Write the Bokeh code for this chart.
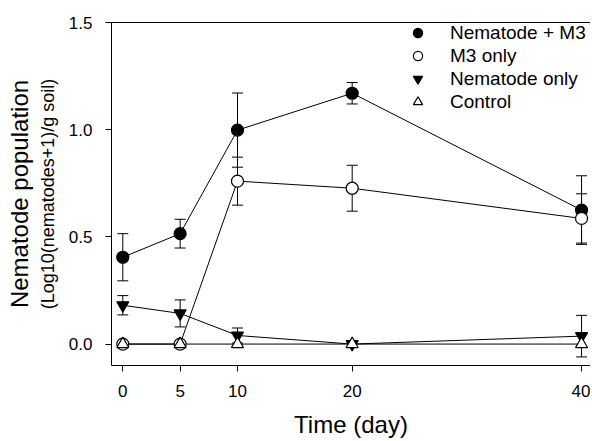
from bokeh.plotting import figure
from bokeh.models import (ColumnDataSource, Whisker, TeeHead, Legend, LegendItem,
                          FixedTicker, LinearAxis, Title, Range1d, NumeralTickFormatter)
from bokeh.embed import file_html
from bokeh.resources import INLINE

# ---- data ----
days = [0, 5, 10, 20, 40]
nem_m3 = [0.405, 0.515, 0.998, 1.170, 0.625]
nem_m3_err = [0.110, 0.067, 0.173, 0.050, 0.160]
m3_only = [0.0, 0.0, 0.760, 0.727, 0.586]
m3_only_err = [0.0, 0.0, 0.112, 0.107, 0.115]
nem_only = [0.181, 0.143, 0.040, 0.0, 0.037]
nem_only_err = [0.045, 0.063, 0.035, 0.0, 0.097]
control = [0.0, 0.0, 0.0, 0.0, 0.0]
control_err = [0.0, 0.0, 0.0, 0.0, 0.0]
x_ticks = [0, 5, 10, 20, 40]
y_ticks = [0.0, 0.5, 1.0, 1.5]
series_names = ["Nematode + M3", "M3 only", "Nematode only", "Control"]

FONT = "Liberation Sans"

p = figure(width=590, height=440, output_backend="svg", toolbar_location=None,
           x_range=Range1d(-0.985, 40.78), y_range=Range1d(-0.1, 1.5),
           min_border_left=111, min_border_right=0, min_border_top=22,
           min_border_bottom=71)
p.grid.visible = False
p.outline_line_color = None
p.background_fill_color = "white"
p.border_fill_color = "white"

# axes
for ax in (p.xaxis[0], p.yaxis[0]):
    ax.axis_line_color = "black"
    ax.axis_line_width = 1
    ax.major_tick_line_color = "black"
    ax.major_tick_out = 6
    ax.major_tick_in = 0
    ax.minor_tick_line_color = None
    ax.major_label_text_font = FONT
    ax.major_label_text_font_size = "17px"
    ax.major_label_text_color = "black"

p.xaxis[0].ticker = FixedTicker(ticks=x_ticks)
p.xaxis[0].major_label_standoff = 13
p.xaxis[0].axis_label = "Time (day)"
p.xaxis[0].axis_label_text_font = FONT
p.xaxis[0].axis_label_text_font_size = "24px"
p.xaxis[0].axis_label_text_font_style = "normal"
p.xaxis[0].axis_label_text_color = "black"
p.xaxis[0].axis_label_standoff = 11

p.yaxis[0].ticker = FixedTicker(ticks=y_ticks)
p.yaxis[0].formatter = NumeralTickFormatter(format="0.0")
p.yaxis[0].major_label_standoff = 13
p.yaxis[0].axis_label = "(Log10(nematodes+1)/g soil)"
p.yaxis[0].axis_label_text_font = FONT
p.yaxis[0].axis_label_text_font_size = "18px"
p.yaxis[0].axis_label_text_font_style = "normal"
p.yaxis[0].axis_label_text_color = "black"
p.yaxis[0].axis_label_standoff = 8

p.add_layout(Title(text="Nematode population", text_font=FONT, text_font_size="24px",
                   text_font_style="normal", text_color="black", align="center",
                   standoff=4), "left")

top_axis = LinearAxis(ticker=FixedTicker(ticks=[]), major_tick_line_color=None,
                      minor_tick_line_color=None, major_label_text_font_size="0px",
                      axis_line_color="black")
p.add_layout(top_axis, "above")

series = [
    (nem_m3, nem_m3_err, "circle", "black"),
    (m3_only, m3_only_err, "circle", "white"),
    (nem_only, nem_only_err, "inverted_triangle", "black"),
    (control, control_err, "triangle", "white"),
]

# lines
for vals, errs, marker, fill in series:
    p.line(days, vals, line_color="black", line_width=1)

# error bars
for vals, errs, marker, fill in series:
    xs = [d for d, e in zip(days, errs) if e > 0]
    up = [v + e for v, e in zip(vals, errs) if e > 0]
    lo = [v - e for v, e in zip(vals, errs) if e > 0]
    if xs:
        src = ColumnDataSource(dict(x=xs, upper=up, lower=lo))
        w = Whisker(source=src, base="x", upper="upper", lower="lower",
                    line_color="black", line_width=1,
                    upper_head=TeeHead(size=11, line_color="black", line_width=1),
                    lower_head=TeeHead(size=11, line_color="black", line_width=1))
        p.add_layout(w)

# markers
items = []
for (vals, errs, marker, fill), name in zip(series, series_names):
    r = p.scatter(days, vals, marker=marker, size=12, fill_color=fill,
                  line_color="black", line_width=1.2)
    items.append(LegendItem(label=name, renderers=[r]))

legend = Legend(items=items, location=(295, 252), border_line_color=None,
                background_fill_alpha=0, label_text_font=FONT,
                label_text_font_size="19px", label_text_color="black",
                label_height=23, glyph_height=23, glyph_width=23, spacing=0,
                padding=0, margin=0, label_standoff=21)
p.add_layout(legend)

open("out.html", "w").write(file_html(p, INLINE))
